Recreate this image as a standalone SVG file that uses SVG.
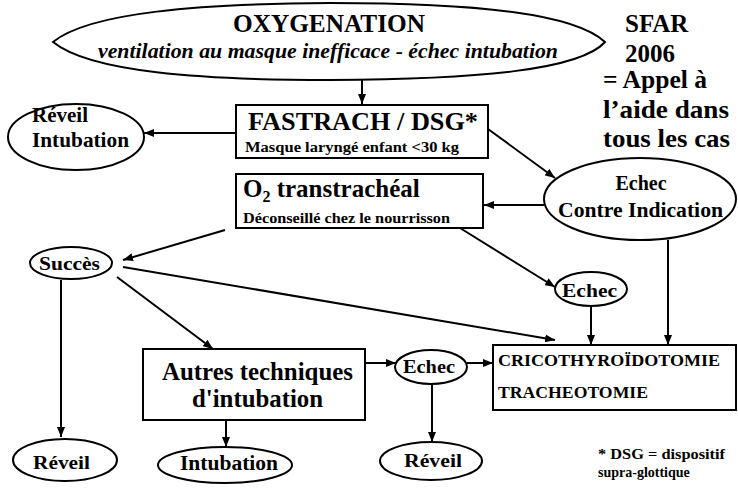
<svg xmlns="http://www.w3.org/2000/svg" width="738" height="489" viewBox="0 0 738 489" font-family="Liberation Serif, DejaVu Serif, Times New Roman, serif">
<style>
text{font-weight:bold;fill:#000}
.n{fill:#fff;stroke:#000;stroke-width:2}
.c{fill:none;stroke:#000;stroke-width:2}
</style>
<defs>
<marker id="ah" markerUnits="userSpaceOnUse" markerWidth="10" markerHeight="8" refX="10" refY="4" orient="auto">
<path d="M0,0 L10,4 L0,8 z" fill="#000"/>
</marker>
</defs>
<rect width="738" height="489" fill="#fff"/>

<g id="connectors">
<line class="c" x1="362" y1="79" x2="362" y2="104" stroke-width="1.5" marker-end="url(#ah)"/>
<line class="c" x1="236" y1="133" x2="144" y2="133" marker-end="url(#ah)"/>
<line class="c" x1="488" y1="129" x2="555" y2="178" marker-end="url(#ah)"/>
<line class="c" x1="544" y1="205" x2="484" y2="205" stroke-width="3.5" marker-end="url(#ah)"/>
<line class="c" x1="225" y1="230" x2="123" y2="260" stroke-width="2.5" marker-end="url(#ah)"/>
<line class="c" x1="460" y1="228" x2="555" y2="287" marker-end="url(#ah)"/>
<line class="c" x1="123" y1="267" x2="555" y2="340" stroke-width="3.5" marker-end="url(#ah)"/>
<line class="c" x1="117" y1="277" x2="213" y2="349" stroke-width="2.5" marker-end="url(#ah)"/>
<line class="c" x1="61" y1="280" x2="61" y2="437" marker-end="url(#ah)"/>
<line class="c" x1="591" y1="306" x2="591" y2="345" stroke-width="3" marker-end="url(#ah)"/>
<line class="c" x1="668" y1="240" x2="668" y2="345" stroke-width="3" marker-end="url(#ah)"/>
<line class="c" x1="365" y1="363" x2="396" y2="363" stroke-width="2.5" marker-end="url(#ah)"/>
<line class="c" x1="467" y1="363" x2="493" y2="363" stroke-width="2.5" marker-end="url(#ah)"/>
<line class="c" x1="432" y1="384" x2="432" y2="442" marker-end="url(#ah)"/>
<line class="c" x1="226" y1="420" x2="226" y2="447" marker-end="url(#ah)"/>
</g>

<g id="oxygenation">
<path class="n" d="M53,42 C90,12 200,4 330,3 C480,3 575,14 605,42 C580,70 480,79 330,80 C200,80 90,72 53,42 Z"/>
<text x="233" y="32" font-size="25" textLength="192" lengthAdjust="spacingAndGlyphs">OXYGENATION</text>
<text x="98" y="58" font-size="21" font-style="italic" font-weight="normal" textLength="460" lengthAdjust="spacingAndGlyphs">ventilation au masque inefficace - échec intubation</text>
</g>

<g id="sfar">
<text x="625" y="32" font-size="25">SFAR</text>
<text x="625" y="62" font-size="25">2006</text>
<text x="603" y="88" font-size="26" textLength="104" lengthAdjust="spacingAndGlyphs">= Appel à</text>
<text x="603" y="118" font-size="26" textLength="126" lengthAdjust="spacingAndGlyphs">l’aide dans</text>
<text x="603" y="147" font-size="26" textLength="127" lengthAdjust="spacingAndGlyphs">tous les cas</text>
</g>

<g id="fastrach">
<rect class="n" x="236" y="105" width="252" height="53"/>
<text x="248" y="130" font-size="25" textLength="230" lengthAdjust="spacingAndGlyphs">FASTRACH / DSG*</text>
<text x="245" y="152" font-size="15" textLength="214" lengthAdjust="spacingAndGlyphs">Masque laryngé enfant &lt;30 kg</text>
</g>

<g id="reveil-intubation">
<ellipse class="n" cx="76" cy="137" rx="68" ry="33"/>
<text x="32" y="122" font-size="21">Réveil</text>
<text x="32" y="147" font-size="21" textLength="97" lengthAdjust="spacingAndGlyphs">Intubation</text>
</g>

<g id="o2">
<rect class="n" x="236" y="174" width="247" height="54"/>
<text x="243" y="197" font-size="25">O<tspan font-size="16" dy="5">2</tspan><tspan dy="-5"> transtrachéal</tspan></text>
<text x="243" y="223" font-size="14" textLength="207" lengthAdjust="spacingAndGlyphs">Déconseillé chez le nourrisson</text>
</g>

<g id="echec-ci">
<ellipse class="n" cx="640" cy="199" rx="96" ry="41"/>
<text x="641" y="190" font-size="20" text-anchor="middle">Echec</text>
<text x="558" y="217" font-size="20" textLength="165" lengthAdjust="spacingAndGlyphs">Contre Indication</text>
</g>

<g id="succes">
<ellipse class="n" cx="71" cy="263" rx="41" ry="16"/>
<text x="39" y="270" font-size="18" textLength="61" lengthAdjust="spacingAndGlyphs">Succès</text>
</g>

<g id="echec1">
<ellipse class="n" cx="591" cy="289" rx="36" ry="17"/>
<text x="562" y="297" font-size="19" textLength="55" lengthAdjust="spacingAndGlyphs">Echec</text>
</g>

<g id="autres">
<rect class="n" x="143" y="349" width="222" height="71"/>
<text x="162" y="380" font-size="25" textLength="191" lengthAdjust="spacingAndGlyphs">Autres techniques</text>
<text x="192" y="407" font-size="25" textLength="131" lengthAdjust="spacingAndGlyphs">d'intubation</text>
</g>

<g id="echec2">
<ellipse class="n" cx="431" cy="367" rx="36" ry="17"/>
<text x="403" y="373" font-size="19" textLength="52" lengthAdjust="spacingAndGlyphs">Echec</text>
</g>

<g id="crico">
<rect class="n" x="493" y="345" width="243" height="65"/>
<text x="498" y="366" font-size="17" textLength="222" lengthAdjust="spacingAndGlyphs">CRICOTHYROÏDOTOMIE</text>
<text x="498" y="398" font-size="17" textLength="150" lengthAdjust="spacingAndGlyphs">TRACHEOTOMIE</text>
</g>

<g id="reveil1">
<ellipse class="n" cx="65" cy="460" rx="52" ry="21"/>
<text x="33" y="469" font-size="19" textLength="57" lengthAdjust="spacingAndGlyphs">Réveil</text>
</g>

<g id="intubation">
<ellipse class="n" cx="225" cy="465" rx="67" ry="18"/>
<text x="180" y="470" font-size="20" textLength="98" lengthAdjust="spacingAndGlyphs">Intubation</text>
</g>

<g id="reveil2">
<ellipse class="n" cx="431" cy="461" rx="51" ry="19"/>
<text x="404" y="467" font-size="19" textLength="58" lengthAdjust="spacingAndGlyphs">Réveil</text>
</g>

<g id="footnote">
<text x="598" y="459" font-size="14" textLength="127" lengthAdjust="spacingAndGlyphs">* DSG = dispositif</text>
<text x="598" y="477" font-size="14">supra-glottique</text>
</g>
</svg>
